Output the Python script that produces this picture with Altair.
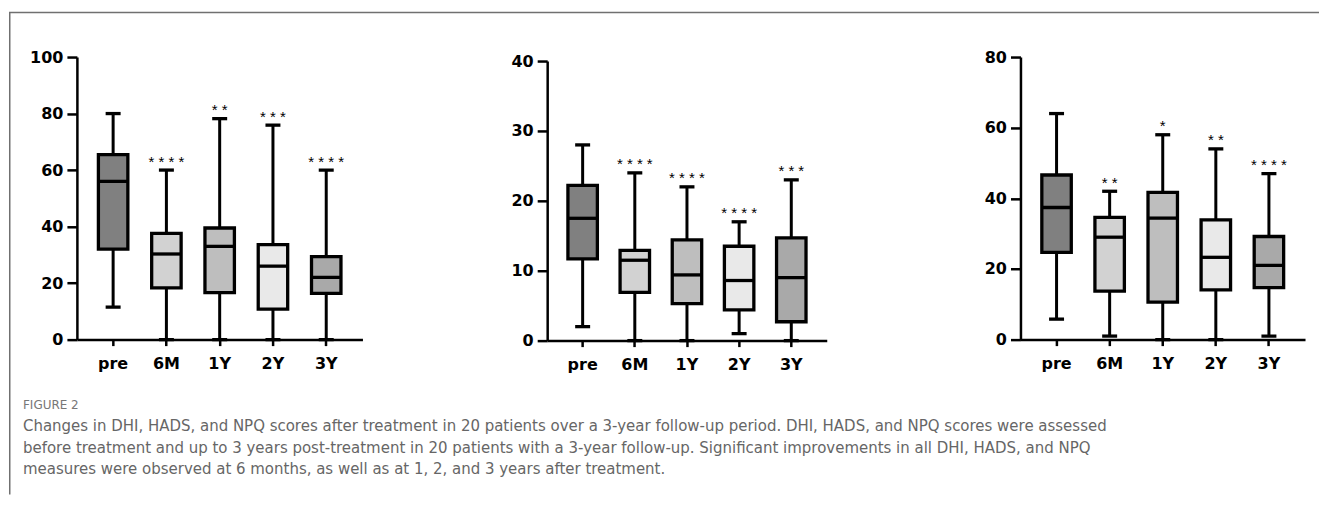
import altair as alt
import pandas as pd

groups = ["pre", "6M", "1Y", "2Y", "3Y"]
fills = ["#808080", "#d2d2d2", "#bebebe", "#e9e9e9", "#a9a9a9"]

# DHI
dhi_min = [11.5, 0, 0, 0, 0]
dhi_q1 = [32, 18.3, 16.6, 10.8, 16.4]
dhi_med = [56, 30.3, 33, 26, 22]
dhi_q3 = [65.5, 37.6, 39.5, 33.6, 29.4]
dhi_max = [80, 60, 78.2, 75.9, 60]
dhi_sig = ["", "****", "**", "***", "****"]
dhi_ticks = [0, 20, 40, 60, 80, 100]

# HADS
hads_min = [2, 0, 0, 1, 0]
hads_q1 = [11.7, 6.9, 5.3, 4.4, 2.7]
hads_med = [17.5, 11.5, 9.4, 8.6, 9.0]
hads_q3 = [22.2, 12.9, 14.4, 13.5, 14.7]
hads_max = [28, 24, 22, 17, 23]
hads_sig = ["", "****", "****", "****", "***"]
hads_ticks = [0, 10, 20, 30, 40]

# NPQ
npq_min = [5.8, 1, 0, 0, 1]
npq_q1 = [24.7, 13.7, 10.6, 14.1, 14.7]
npq_med = [37.4, 29, 34.4, 23.3, 21]
npq_q3 = [46.6, 34.6, 41.7, 33.9, 29.2]
npq_max = [64, 42, 58, 54, 47]
npq_sig = ["", "**", "*", "**", "****"]
npq_ticks = [0, 20, 40, 60, 80]

figure_label = "FIGURE 2"
caption_lines = [
    "Changes in DHI, HADS, and NPQ scores after treatment in 20 patients over a 3-year follow-up period. DHI, HADS, and NPQ scores were assessed",
    "before treatment and up to 3 years post-treatment in 20 patients with a 3-year follow-up. Significant improvements in all DHI, HADS, and NPQ",
    "measures were observed at 6 months, as well as at 1, 2, and 3 years after treatment.",
]


def panel(mins, q1s, meds, q3s, maxs, sigs, ticks, xr, vw, h, yrange=None):
    df = pd.DataFrame({
        "group": groups, "lo": mins, "q1": q1s, "med": meds, "q3": q3s,
        "hi": maxs, "sig": [" ".join(s) for s in sigs],
    })
    x = alt.X("group:N", sort=groups,
              scale=alt.Scale(domain=groups, range=[0, xr], paddingInner=0.4, paddingOuter=0.38),
              axis=alt.Axis(title=None, labelAngle=0))
    if yrange is None:
        ysc = alt.Scale(domain=[0, ticks[-1]], nice=False, zero=True)
    else:
        ysc = alt.Scale(domain=[0, ticks[-1]], nice=False, zero=True, range=yrange)
    yax = alt.Axis(title=None, values=ticks)
    base = alt.Chart(df).encode(x=x)
    whisk = base.mark_rule(color="black", strokeWidth=3, opacity=1).encode(
        y=alt.Y("lo:Q", scale=ysc, axis=yax), y2="hi:Q")
    box = base.mark_bar(size=29.5, stroke="black", strokeWidth=3.3, opacity=1).encode(
        y=alt.Y("q1:Q", scale=ysc, axis=yax), y2="q3:Q",
        color=alt.Color("group:N", scale=alt.Scale(domain=groups, range=fills), legend=None))
    med = base.mark_tick(color="black", size=31, thickness=3.3, opacity=1).encode(
        y=alt.Y("med:Q", scale=ysc, axis=yax))
    cap_t = base.mark_tick(color="black", size=15, thickness=3.3, opacity=1).encode(
        y=alt.Y("hi:Q", scale=ysc, axis=yax))
    cap_b = base.mark_tick(color="black", size=15, thickness=3.3, opacity=1).encode(
        y=alt.Y("lo:Q", scale=ysc, axis=yax))
    stars = base.mark_text(font="Liberation Sans", fontSize=15, dy=-3.4,
                           baseline="alphabetic", color="black").encode(
        y=alt.Y("hi:Q", scale=ysc, axis=yax), text="sig:N")
    return [whisk, box, med, cap_t, cap_b, stars], vw, h


one = alt.Data(values=[{"k": 0}])
frame_col = "#707070"
left_line = alt.Chart(one).mark_rule(color=frame_col, strokeWidth=1.5).encode(
    x=alt.value(-67.25), y=alt.value(-44.5), y2=alt.value(438))
top_line = alt.Chart(one).mark_rule(color=frame_col, strokeWidth=1.5).encode(
    x=alt.value(-68), x2=alt.value(1244), y=alt.value(-44.5))
fig_txt = alt.Chart(one).mark_text(align="left", baseline="alphabetic", font="DejaVu Sans",
                                   fontSize=12, color="#777777").encode(
    x=alt.value(-54), y=alt.value(352), text=alt.value(figure_label))
cap_txt = alt.Chart(one).mark_text(align="left", baseline="alphabetic", font="DejaVu Sans",
                                   fontSize=15, color="#666666", lineHeight=21.3).encode(
    x=alt.value(-54), y=alt.value(375), text=alt.value(caption_lines))

l1, w1, h1 = panel(dhi_min, dhi_q1, dhi_med, dhi_q3, dhi_max, dhi_sig, dhi_ticks, 286, 471, 283)
l2, w2, h2 = panel(hads_min, hads_q1, hads_med, hads_q3, hads_max, hads_sig, hads_ticks, 280, 474, 284, yrange=[284, 4])
l3, w3, h3 = panel(npq_min, npq_q1, npq_med, npq_q3, npq_max, npq_sig, npq_ticks, 285, 285, 283)

p1 = alt.layer(left_line, top_line, fig_txt, cap_txt, *l1).properties(width=w1, height=h1)
p2 = alt.layer(*l2).properties(width=w2, height=h2)
p3 = alt.layer(*l3).properties(width=w3, height=h3)

chart = alt.hconcat(p1, p2, p3, spacing=0, bounds="flush").properties(
    padding={"left": 0, "top": 2.75, "right": 0, "bottom": 0}
).configure_view(stroke=None).configure_axis(
    domainColor="black", domainWidth=2.5, tickColor="black", tickWidth=2.5,
    labelFont="DejaVu Sans", labelFontWeight="bold", labelFontSize=16,
    labelColor="black", grid=False
).configure_axisX(tickSize=6, labelPadding=10).configure_axisY(tickSize=10, labelPadding=4)

chart.save("out.html", embed_options={"renderer": "svg", "actions": False})
